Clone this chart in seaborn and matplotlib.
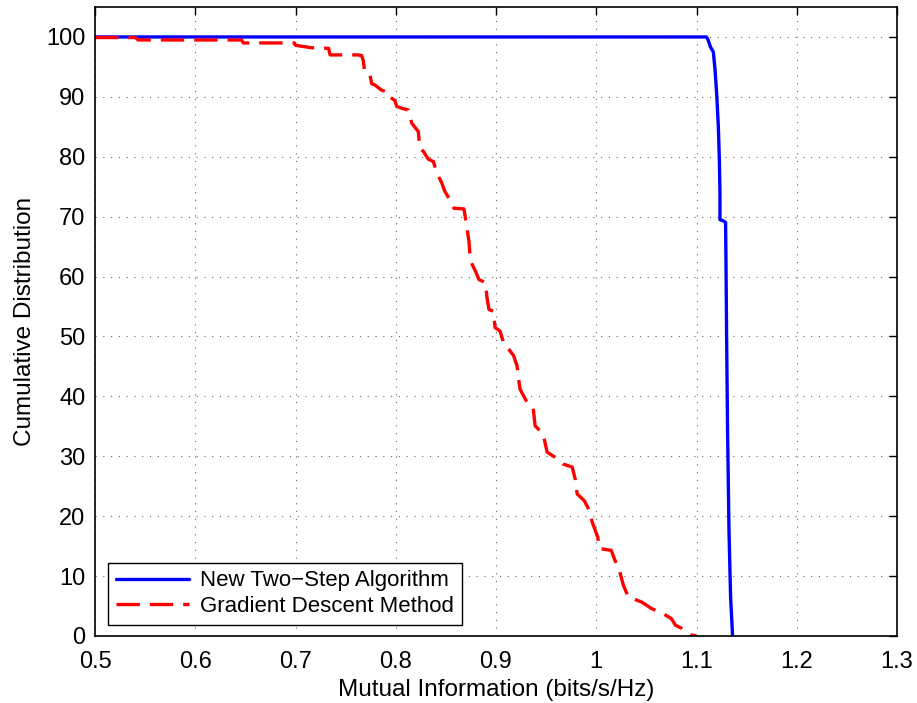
import numpy as np
import pandas as pd
import matplotlib
matplotlib.use("Agg")
import matplotlib.pyplot as plt
import seaborn as sns

# ---- data ----
blue_x = [0.50, 1.110, 1.1118, 1.114, 1.1168, 1.1185, 1.1201, 1.1218, 1.1228, 1.1234,
          1.1234, 1.1267, 1.129, 1.1294, 1.130, 1.131, 1.1324, 1.134, 1.136]
blue_y = [100, 100, 99.4, 98.3, 97.5, 94.5, 90.6, 85.0, 79.5, 73.9,
          69.5, 69.3, 69.05, 62.8, 50.5, 34.3, 17.6, 6.5, 0.0]

red_x = [0.50, 0.540, 0.543, 0.646, 0.648, 0.699, 0.700, 0.716, 0.733, 0.7345,
         0.762, 0.766, 0.7675, 0.769, 0.774, 0.776, 0.779, 0.786, 0.7925, 0.794,
         0.799, 0.801, 0.806, 0.8125, 0.816, 0.8225, 0.824, 0.8275, 0.8325, 0.8375,
         0.841, 0.846, 0.849, 0.853, 0.858, 0.868, 0.8695, 0.871, 0.873, 0.8745,
         0.8795, 0.883, 0.8895, 0.891, 0.893, 0.8975, 0.899, 0.904, 0.908, 0.914,
         0.9175, 0.921, 0.9225, 0.924, 0.930, 0.937, 0.939, 0.947, 0.951, 0.961,
         0.967, 0.976, 0.979, 0.981, 0.988, 0.993, 0.996, 1.0015, 1.003, 1.015,
         1.018, 1.023, 1.027, 1.032, 1.045, 1.055, 1.069, 1.075, 1.079, 1.085,
         1.094, 1.100]
red_y = [99.9, 99.9, 99.5, 99.5, 99.0, 99.0, 98.6, 98.2, 98.1, 97.0,
         97.0, 96.9, 96.1, 94.3, 93.9, 92.2, 92.0, 91.1, 90.8, 90.0,
         89.4, 88.4, 88.1, 87.8, 85.6, 84.2, 81.4, 80.9, 79.6, 79.2,
         77.3, 75.6, 74.2, 73.1, 71.4, 71.3, 69.8, 68.1, 65.9, 62.6,
         60.9, 59.5, 59.0, 56.5, 54.5, 54.2, 51.5, 50.9, 48.7, 47.6,
         46.8, 45.1, 42.9, 41.2, 39.3, 38.2, 35.1, 33.7, 30.7, 29.6,
         28.7, 28.2, 26.2, 23.7, 22.6, 21.0, 19.0, 16.5, 14.6, 14.3,
         12.9, 11.0, 8.5, 6.5, 5.7, 4.6, 3.5, 2.9, 1.8, 1.3,
         0.2, 0.0]

series_names = ["New Two\u2212Step Algorithm", "Gradient Descent Method"]
x_ticks = [0.5, 0.6, 0.7, 0.8, 0.9, 1.0, 1.1, 1.2, 1.3]
x_ticklabels = ["0.5", "0.6", "0.7", "0.8", "0.9", "1", "1.1", "1.2", "1.3"]
y_ticks = [0, 10, 20, 30, 40, 50, 60, 70, 80, 90, 100]
y_ticklabels = [str(v) for v in y_ticks]
x_label = "Mutual Information (bits/s/Hz)"
y_label = "Cumulative Distribution"

# ---- style ----
sns.set_style("white")
plt.rcParams["font.family"] = ["Liberation Sans", "DejaVu Sans"]
plt.rcParams["font.size"] = 16
plt.rcParams["text.color"] = "black"
plt.rcParams["axes.labelcolor"] = "black"

fig = plt.figure(figsize=(9.17, 7.03), dpi=100)
ax = fig.add_axes([95 / 917, 1 - 636 / 703, (897 - 95) / 917, (636 - 7) / 703])

df_b = pd.DataFrame({"x": blue_x, "y": blue_y, "order": np.arange(len(blue_x))})
df_r = pd.DataFrame({"x": red_x, "y": red_y, "order": np.arange(len(red_x))})

sns.lineplot(data=df_b, x="x", y="y", sort=False, estimator=None, ax=ax,
             color="#0000ff", lw=2.4, label=series_names[0])
sns.lineplot(data=df_r, x="x", y="y", sort=False, estimator=None, ax=ax,
             color="#ff0000", lw=2.4, label=series_names[1])
ax.lines[1].set_dashes([7, 3])

ax.set_xlim(0.5, 1.3)
ax.set_ylim(0, 105)
ax.set_xticks(x_ticks)
ax.set_xticklabels(x_ticklabels)
ax.set_yticks(y_ticks)
ax.set_yticklabels(y_ticklabels)
ax.set_xlabel(x_label, fontsize=17.5, labelpad=4, color="black")
ax.set_ylabel(y_label, fontsize=17.5, labelpad=7, color="black")

ax.grid(True, linestyle=(0, (1, 6)), color="#666666", lw=0.8)
ax.tick_params(direction="in", length=6, width=1, top=True, right=True,
               labelsize=17, colors="black")
ax.tick_params(axis="x", pad=11)
ax.tick_params(axis="y", pad=7)
for s in ax.spines.values():
    s.set_color("black")
    s.set_linewidth(1.2)
    s.set_visible(True)

leg = ax.legend(loc="lower left", bbox_to_anchor=(0.016, 0.018), frameon=True,
                fancybox=False, edgecolor="black", framealpha=1, fontsize=16,
                handlelength=3.3, handletextpad=0.5, borderpad=0.35,
                labelspacing=0.2, borderaxespad=0)
leg.get_frame().set_linewidth(1.0)
for t in leg.get_texts():
    t.set_color("black")

fig.savefig("out.png", dpi=100)
